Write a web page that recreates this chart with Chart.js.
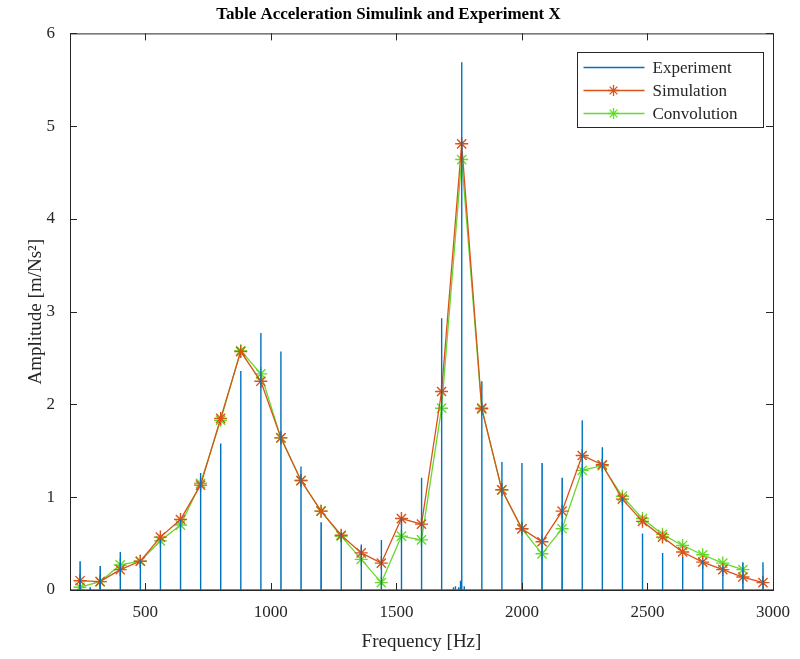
<!DOCTYPE html>
<html>
<head>
<meta charset="utf-8">
<script src="https://cdn.jsdelivr.net/npm/chart.js@4.4.1/dist/chart.umd.min.js"></script>
<style>
  html, body { margin: 0; padding: 0; background: #fff; }
  #wrap { width: 800px; height: 659px; }
</style>
</head>
<body>
<div id="wrap"><canvas id="chart" width="800" height="659"></canvas></div>
<script>
// Harmonic frequencies (Hz) shared by the model curves
const simFreq  = [240, 320, 400, 480, 560, 640, 720, 800, 880, 960, 1040, 1120, 1200, 1280, 1360, 1440, 1520, 1600,
                  1680, 1760, 1840, 1920, 2000, 2080, 2160, 2240, 2320, 2400, 2480, 2560, 2640, 2720, 2800, 2880, 2960];
const simAmp   = [0.10, 0.09, 0.22, 0.31, 0.57, 0.76, 1.13, 1.85, 2.57, 2.25, 1.64, 1.18, 0.85, 0.59, 0.40, 0.29, 0.77, 0.71,
                  2.14, 4.81, 1.96, 1.08, 0.66, 0.52, 0.85, 1.45, 1.35, 0.98, 0.74, 0.57, 0.41, 0.30, 0.22, 0.14, 0.08];
const convFreq = [240, 320, 400, 480, 560, 640, 720, 800, 880, 960, 1040, 1120, 1200, 1280, 1360, 1440, 1520, 1600,
                  1680, 1760, 1840, 1920, 2000, 2080, 2160, 2240, 2320, 2400, 2480, 2560, 2640, 2720, 2800, 2880];
const convAmp  = [0.03, 0.09, 0.27, 0.31, 0.53, 0.70, 1.15, 1.83, 2.58, 2.33, 1.64, 1.18, 0.85, 0.58, 0.33, 0.08, 0.58, 0.54,
                  1.96, 4.64, 1.95, 1.08, 0.66, 0.39, 0.66, 1.29, 1.34, 1.01, 0.77, 0.60, 0.48, 0.38, 0.29, 0.22];

// Measured spectrum peaks (Hz, amplitude); everything else sits at ~0
const expFreq  = [240, 280, 320, 400, 480, 560, 640, 720, 800, 880, 960, 1040, 1120, 1200, 1280, 1360, 1440, 1520, 1600,
                  1680, 1727, 1735, 1748, 1755, 1760, 1770, 1840, 1920, 2000, 2080, 2160, 2240, 2320, 2400, 2480,
                  2560, 2640, 2720, 2800, 2880, 2960];
const expAmp   = [0.31, 0.03, 0.26, 0.41, 0.32, 0.55, 0.76, 1.26, 1.58, 2.36, 2.77, 2.57, 1.33, 0.73, 0.62, 0.49, 0.54, 0.78, 1.21,
                  2.93, 0.03, 0.04, 0.03, 0.10, 5.69, 0.04, 2.25, 1.38, 1.37, 1.37, 1.21, 1.83, 1.54, 1.00, 0.61,
                  0.40, 0.35, 0.32, 0.26, 0.30, 0.30];

const xMin = 200, xMax = 3000;
const yMin = 0,   yMax = 6;
const xTicks = [500, 1000, 1500, 2000, 2500, 3000];
const yTicks = [0, 1, 2, 3, 4, 5, 6];

const COL_EXP  = "#0072BD";
const COL_SIM  = "#D95319";
const COL_CONV = "#66D92C";
const SERIF = "'Liberation Serif', 'Times New Roman', serif";

// Spectrum drawn as a line: flat at zero, spiking up at each peak
function spectrum() {
  const pts = [{ x: xMin, y: 0 }];
  expFreq.forEach((f, i) => {
    pts.push({ x: f - 0.6, y: 0 }, { x: f, y: expAmp[i] }, { x: f + 0.6, y: 0 });
  });
  pts.push({ x: xMax, y: 0 });
  return pts;
}
const toXY = (xs, ys) => xs.map((x, i) => ({ x, y: ys[i] }));

// MATLAB-style box: ticks pointing inward on all four sides + in-axes legend
const boxPlugin = {
  id: "box",
  afterDatasetsDraw(chart) {
    const { ctx, chartArea: a, scales: { x, y } } = chart;
    ctx.save();
    ctx.strokeStyle = "#262626";
    ctx.lineWidth = 1;
    ctx.strokeRect(a.left + 0.5, a.top + 0.5, a.right - a.left, a.bottom - a.top);
    const len = 7;
    ctx.beginPath();
    xTicks.forEach(v => {
      const px = Math.round(x.getPixelForValue(v)) + 0.5;
      ctx.moveTo(px, a.bottom); ctx.lineTo(px, a.bottom - len);
      ctx.moveTo(px, a.top);    ctx.lineTo(px, a.top + len);
    });
    yTicks.forEach(v => {
      const py = Math.round(y.getPixelForValue(v)) + 0.5;
      ctx.moveTo(a.left, py);  ctx.lineTo(a.left + len, py);
      ctx.moveTo(a.right, py); ctx.lineTo(a.right - len, py);
    });
    ctx.stroke();

    // legend
    const bx = 577.5, by = 52.5, bw = 186, bh = 75, row = 23;
    ctx.fillStyle = "#fff";
    ctx.fillRect(bx, by, bw, bh);
    ctx.strokeStyle = "#262626";
    ctx.strokeRect(bx, by, bw, bh);
    ctx.font = "17px " + SERIF;
    ctx.textBaseline = "middle";
    chart.data.datasets.forEach((ds, i) => {
      const cy = by + 15 + i * row;
      ctx.strokeStyle = ds.borderColor;
      ctx.lineWidth = 1.3;
      ctx.beginPath();
      ctx.moveTo(bx + 6, cy); ctx.lineTo(bx + 67, cy);
      ctx.stroke();
      if (ds.pointRadius > 0) {
        const r = 5.5, cx = bx + 36;
        ctx.beginPath();
        for (let k = 0; k < 4; k++) {
          const ang = k * Math.PI / 4;
          ctx.moveTo(cx - r * Math.cos(ang), cy - r * Math.sin(ang));
          ctx.lineTo(cx + r * Math.cos(ang), cy + r * Math.sin(ang));
        }
        ctx.stroke();
      }
      ctx.fillStyle = "#262626";
      ctx.fillText(ds.label, bx + 75, cy + 1);
    });
    ctx.restore();
  }
};

new Chart(document.getElementById("chart"), {
  type: "line",
  data: {
    datasets: [
      {
        label: "Experiment",
        data: spectrum(),
        borderColor: COL_EXP,
        borderWidth: 1.4,
        pointRadius: 0,
        tension: 0,
      },
      {
        label: "Simulation",
        data: toXY(simFreq, simAmp),
        borderColor: COL_SIM,
        backgroundColor: COL_SIM,
        borderWidth: 1.3,
        pointStyle: "star",
        pointRadius: 6.5,
        pointBorderWidth: 1.4,
        tension: 0,
      },
      {
        label: "Convolution",
        data: toXY(convFreq, convAmp),
        borderColor: COL_CONV,
        backgroundColor: COL_CONV,
        borderWidth: 1.3,
        pointStyle: "star",
        pointRadius: 6.5,
        pointBorderWidth: 1.4,
        tension: 0,
      },
    ],
  },
  options: {
    responsive: false,
    animation: false,
    layout: { padding: { left: 4, right: 27, top: 4, bottom: 0 } },
    plugins: {
      legend: { display: false },
      tooltip: { enabled: false },
      title: {
        display: true,
        text: "Table Acceleration Simulink and Experiment X",
        color: "#000",
        font: { family: SERIF, size: 17, weight: "bold" },
        padding: { top: 0, bottom: 9 },
      },
    },
    scales: {
      x: {
        type: "linear",
        min: xMin,
        max: xMax,
        afterBuildTicks: s => { s.ticks = xTicks.map(v => ({ value: v })); },
        afterFit: s => { s.height = 69; s.paddingRight = 0; },
        grid: { display: false, drawTicks: false },
        border: { display: false },
        ticks: { color: "#262626", font: { family: SERIF, size: 17 }, padding: 12, maxRotation: 0, callback: v => String(v) },
        title: { display: true, text: "Frequency [Hz]", color: "#262626", font: { family: SERIF, size: 19 }, padding: { top: 0, bottom: 6 } },
      },
      y: {
        min: yMin,
        max: yMax,
        afterBuildTicks: s => { s.ticks = yTicks.map(v => ({ value: v })); },
        afterFit: s => { s.width = 66; },
        grid: { display: false, drawTicks: false },
        border: { display: false },
        ticks: { color: "#262626", font: { family: SERIF, size: 17 }, padding: 15, callback: v => String(v) },
        title: { display: true, text: "Amplitude [m/Ns²]", color: "#262626", font: { family: SERIF, size: 19 }, padding: { top: 21, bottom: 0 } },
      },
    },
  },
  plugins: [boxPlugin],
});
</script>
</body>
</html>
